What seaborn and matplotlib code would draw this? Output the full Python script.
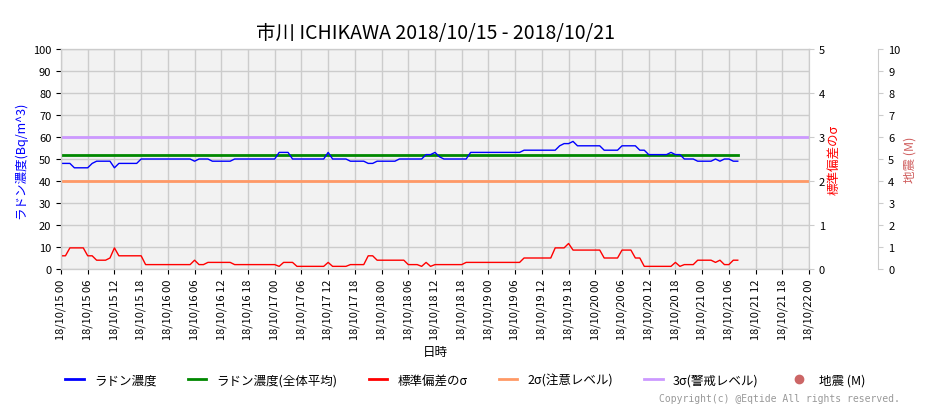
import numpy as np
import pandas as pd
import matplotlib
matplotlib.use("Agg")
import matplotlib.pyplot as plt
import seaborn as sns
from matplotlib.lines import Line2D

plt.rcParams["font.family"] = ["Noto Sans CJK JP", "DejaVu Sans"]

title = "市川 ICHIKAWA 2018/10/15 - 2018/10/21"
start = "2018-10-15 00:00"
end = "2018-10-22 00:00"

radon = ([48]*3 + [46]*4 + [48] + [49]*4 + [46] + [48]*5 + [50]*12 + [49] + [50]*3 + [49]*5 +
         [50]*10 + [53]*3 + [50]*8 + [53] + [50]*4 + [49]*4 + [48]*2 + [49]*5 + [50]*6 +
         [52]*2 + [53] + [51] + [50]*6 + [53]*12 + [54]*8 + [56] + [57]*2 + [58] + [56]*6 +
         [54]*4 + [56]*4 + [54]*2 + [52]*5 + [53] + [52]*2 + [50]*3 + [49]*4 + [50, 49, 50, 50, 49, 49])
sigma = ([0.3]*2 + [0.48]*4 + [0.3]*2 + [0.2]*3 + [0.25] + [0.48] + [0.3]*6 + [0.1]*11 + [0.2] +
         [0.1]*2 + [0.15]*6 + [0.1]*10 + [0.06] + [0.15]*3 + [0.06]*7 + [0.15] + [0.06]*4 +
         [0.1]*4 + [0.3]*2 + [0.2]*7 + [0.1]*3 + [0.06] + [0.15] + [0.06] + [0.1]*7 + [0.15]*13 +
         [0.25]*7 + [0.48]*3 + [0.58] + [0.43]*7 + [0.25]*4 + [0.43]*3 + [0.25]*2 + [0.06]*7 +
         [0.15] + [0.06] + [0.1]*3 + [0.2]*4 + [0.15] + [0.2] + [0.1]*2 + [0.2]*2)
average = 52
level2 = 40
level3 = 60

times = pd.date_range(start, periods=len(radon), freq="h")
df = pd.DataFrame({"t": times, "radon": radon, "sigma": sigma})

fig = plt.figure(figsize=(9.3, 4.1), dpi=100)
ax = fig.add_axes([61/930, 140/410, 748/930, 220/410])
ax.set_facecolor("#f2f2f2")
t0, t1 = pd.Timestamp(start), pd.Timestamp(end)

ax.axhline(level3, color="#cc99ff", lw=2, zorder=2)
ax.axhline(level2, color="#ff9966", lw=2, zorder=2)
ax.plot([times[0], times[-1]], [average, average], color="#008800", lw=2, zorder=3)
sns.lineplot(data=df, x="t", y="radon", ax=ax, color="#0000ff", lw=1, zorder=4, drawstyle="default")

ax.set_ylim(0, 100)
ax.set_yticks(range(0, 101, 10))
ax.set_xlim(t0, t1)
ticks = pd.date_range(t0, t1, freq="6h")
ax.set_xticks(ticks)
ax.set_xticklabels([t.strftime("%y/%m/%d %H") for t in ticks], rotation=90, fontsize=8)
ax.tick_params(axis="y", labelsize=8)
ax.grid(True, color="#cccccc", lw=1)
ax.set_axisbelow(True)
for s in ax.spines.values():
    s.set_color("#cccccc")
ax.set_ylabel("ラドン濃度(Bq/m^3)", color="#0000ff", fontsize=9)
ax.set_xlabel("日時", fontsize=9)
ax.set_title(title, fontsize=14, pad=8)

ax2 = ax.twinx()
sns.lineplot(data=df, x="t", y="sigma", ax=ax2, color="#ff0000", lw=1, zorder=5)
ax2.set_ylim(0, 5)
ax2.set_yticks(range(0, 6))
ax2.tick_params(labelsize=8, color="#cccccc")
ax2.set_ylabel("標準偏差のσ", color="#ff0000", fontsize=9, labelpad=2)
for s in ax2.spines.values():
    s.set_color("#cccccc")
ax2.set_xlim(t0, t1)

ax3 = ax.twinx()
ax3.spines["right"].set_position(("outward", 50))
ax3.set_ylim(0, 10)
ax3.set_yticks(range(0, 11))
ax3.tick_params(labelsize=8, color="#cccccc")
ax3.set_ylabel("地震 (M)", color="#d06060", fontsize=9, labelpad=2)
for s in ax3.spines.values():
    s.set_color("#cccccc")
ax.set_zorder(ax3.get_zorder() + 1) if False else None

handles = [Line2D([], [], color="#0000ff", lw=2),
           Line2D([], [], color="#008800", lw=2),
           Line2D([], [], color="#ff0000", lw=2),
           Line2D([], [], color="#ff9966", lw=2),
           Line2D([], [], color="#cc99ff", lw=2),
           Line2D([], [], color="#cc6666", marker="o", ls="none", ms=6)]
labels = ["ラドン濃度", "ラドン濃度(全体平均)", "標準偏差のσ", "2σ(注意レベル)", "3σ(警戒レベル)", "地震 (M)"]
fig.legend(handles, labels, loc="center", bbox_to_anchor=(0.5, 29/410), ncol=6, frameon=False,
           fontsize=9, handlelength=1.5, columnspacing=2.5)
fig.text(900/930, 6/410, "Copyright(c) @Eqtide All rights reserved.", ha="right", va="bottom",
         fontsize=7, color="#999999", family="DejaVu Sans Mono")

fig.savefig("out.png", dpi=100)
